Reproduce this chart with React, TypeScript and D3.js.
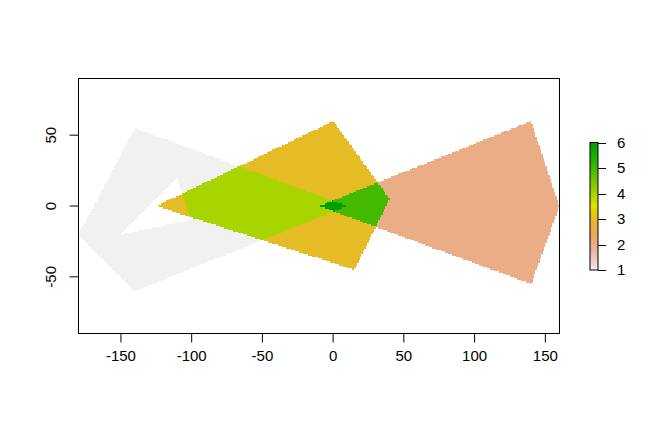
import React from "react";
import * as d3 from "d3";

// Polygons (map units)
const poly1Outer: [number, number][] = [[-180, -20], [-140, 55], [10, 0], [-140, -60], [-180, -20]];
const poly1Hole: [number, number][] = [[-150, -20], [-100, -10], [-110, 20], [-150, -20]];
const poly2: [number, number][] = [[-10, 0], [140, 60], [160, 0], [140, -55], [-10, 0]];
const poly3: [number, number][] = [[-125, 0], [0, 60], [40, 5], [15, -45], [-125, 0]];
const polyValues = [1, 2, 3];

// Raster definition
const rasterExtent = [-180, 160, -60, 60]; // xmin, xmax, ymin, ymax
const rasterNcol = 340;
const rasterNrow = 120;

const xTicks = [-150, -100, -50, 0, 50, 100, 150];
const yTicks = [-50, 0, 50];
const legendTicks = [1, 2, 3, 4, 5, 6];
const legendRange = [1, 6];

// R's hsv() with a mild display gamma
const GAMMA = 1.12;
function hsv(h: number, s: number, v: number): string {
  let r = 0, g = 0, b = 0;
  const hh = (h % 1) * 6;
  const i = Math.floor(hh);
  const f = hh - i;
  const p = v * (1 - s), q = v * (1 - s * f), t = v * (1 - s * (1 - f));
  switch (i % 6) {
    case 0: r = v; g = t; b = p; break;
    case 1: r = q; g = v; b = p; break;
    case 2: r = p; g = v; b = t; break;
    case 3: r = p; g = q; b = v; break;
    case 4: r = t; g = p; b = v; break;
    default: r = v; g = p; b = q;
  }
  const c = (x: number) => Math.round(Math.pow(x, GAMMA) * 255);
  return d3.rgb(c(r), c(g), c(b)).formatHex();
}
function seq(a: number, b: number, n: number) {
  if (n === 1) return [a];
  return d3.range(n).map((i) => a + ((b - a) * i) / (n - 1));
}
function terrainColors(n: number): string[] {
  const k = Math.floor(n / 2);
  const h = [4 / 12, 2 / 12, 0], s = [1, 1, 0], v = [0.65, 0.9, 0.95];
  const out: string[] = [];
  const h1 = seq(h[0], h[1], k), s1 = seq(s[0], s[1], k), v1 = seq(v[0], v[1], k);
  for (let i = 0; i < k; i++) out.push(hsv(h1[i], s1[i], v1[i]));
  const m = n - k + 1;
  const h2 = seq(h[1], h[2], m).slice(1), s2 = seq(s[1], s[2], m).slice(1), v2 = seq(v[1], v[2], m).slice(1);
  for (let i = 0; i < m - 1; i++) out.push(hsv(h2[i], s2[i], v2[i]));
  return out;
}
const palette = terrainColors(255).reverse();
const colorOf = (val: number) => {
  const t = (val - legendRange[0]) / (legendRange[1] - legendRange[0]);
  const idx = Math.max(0, Math.min(palette.length - 1, Math.round(t * (palette.length - 1))));
  return palette[idx];
};

export default function App() {
  const W = 672, H = 432;
  const xs = d3.scaleLinear().domain([-180, 160]).range([78.5, 559.5]);
  const ys = d3.scaleLinear().domain([-90, 90]).range([333.5, 78.5]);
  const font = "'Liberation Sans', Arial, Helvetica, sans-serif";
  const fs = 15;

  const [xmin, xmax, ymin, ymax] = rasterExtent;
  const cw = (xmax - xmin) / rasterNcol;
  const ch = (ymax - ymin) / rasterNrow;
  const polys = [
    (p: [number, number]) => d3.polygonContains(poly1Outer, p) && !d3.polygonContains(poly1Hole, p),
    (p: [number, number]) => d3.polygonContains(poly2, p),
    (p: [number, number]) => d3.polygonContains(poly3, p),
  ];

  const rects: JSX.Element[] = [];
  for (let j = 0; j < rasterNrow; j++) {
    const yc = ymax - (j + 0.5) * ch;
    const vals: number[] = [];
    for (let i = 0; i < rasterNcol; i++) {
      const xc = xmin + (i + 0.5) * cw;
      let s = 0;
      polys.forEach((f, k) => { if (f([xc, yc])) s += polyValues[k]; });
      vals.push(s);
    }
    let i0 = 0;
    while (i0 < rasterNcol) {
      let i1 = i0 + 1;
      while (i1 < rasterNcol && vals[i1] === vals[i0]) i1++;
      if (vals[i0] > 0) {
        const x0 = Math.round(xs(xmin + i0 * cw));
        const x1 = Math.round(xs(xmin + i1 * cw));
        const y0 = Math.round(ys(ymax - j * ch));
        const y1 = Math.round(ys(ymax - (j + 1) * ch));
        rects.push(
          <rect key={`${j}-${i0}`} x={x0} y={y0} width={x1 - x0} height={y1 - y0} fill={colorOf(vals[i0])} />
        );
      }
      i0 = i1;
    }
  }

  // legend
  const lx0 = 590, lx1 = 598;
  const ly = d3.scaleLinear().domain(legendRange).range([270, 142.5]);
  const nLeg = palette.length;
  const legRects = palette.map((c, i) => {
    const v0 = legendRange[0] + ((legendRange[1] - legendRange[0]) * i) / nLeg;
    const v1 = legendRange[0] + ((legendRange[1] - legendRange[0]) * (i + 1)) / nLeg;
    return <rect key={i} x={lx0} y={ly(v1)} width={lx1 - lx0} height={ly(v0) - ly(v1) + 0.3} fill={c} />;
  });

  return (
    <svg width={W} height={H} style={{ position: "absolute", left: 0, top: 0, background: "#fff" }}>
      <rect x={0} y={0} width={W} height={H} fill="#fff" />
      <g shapeRendering="crispEdges">{rects}</g>
      <rect x={78.5} y={78.5} width={481} height={255} fill="none" stroke="#000" strokeWidth={1} />
      {xTicks.map((t) => (
        <g key={t}>
          <line x1={xs(t)} x2={xs(t)} y1={333.5} y2={342.5} stroke="#000" />
          <text x={xs(t)} y={360.5} textAnchor="middle" fontFamily={font} fontSize={fs}>{t}</text>
        </g>
      ))}
      {yTicks.map((t) => (
        <g key={t}>
          <line x1={69.5} x2={78.5} y1={ys(t)} y2={ys(t)} stroke="#000" />
          <text transform={`translate(${56},${ys(t)}) rotate(-90)`} textAnchor="middle" fontFamily={font} fontSize={fs}>{t}</text>
        </g>
      ))}
      <g shapeRendering="crispEdges">{legRects}</g>
      <rect x={lx0} y={ly(6)} width={lx1 - lx0} height={ly(1) - ly(6)} fill="none" stroke="#000" />
      {legendTicks.map((t) => (
        <g key={t}>
          <line x1={lx1} x2={lx1 + 8} y1={Math.round(ly(t)) + 0.5} y2={Math.round(ly(t)) + 0.5} stroke="#000" />
          <text x={617} y={ly(t)} dy="0.35em" fontFamily={font} fontSize={fs}>{t}</text>
        </g>
      ))}
    </svg>
  );
}
